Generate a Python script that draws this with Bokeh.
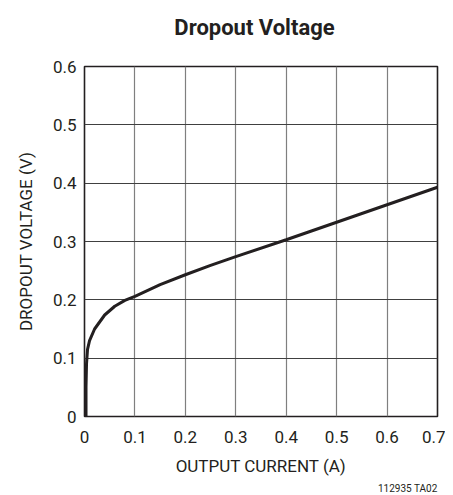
from bokeh.plotting import figure
from bokeh.models import Range1d, FixedTicker, Title, Div
from bokeh.layouts import column
from bokeh.embed import file_html
from bokeh.resources import INLINE

# Data
current_a = [0.003, 0.003, 0.004, 0.006, 0.010, 0.020, 0.040, 0.060, 0.080, 0.100,
             0.150, 0.200, 0.250, 0.300, 0.400, 0.500, 0.600, 0.700]
dropout_v = [0.000, 0.050, 0.090, 0.115, 0.130, 0.150, 0.174, 0.189, 0.199, 0.206,
             0.226, 0.243, 0.259, 0.274, 0.303, 0.333, 0.363, 0.393]
x_ticks = [0, 0.1, 0.2, 0.3, 0.4, 0.5, 0.6, 0.7]
y_ticks = [0, 0.1, 0.2, 0.3, 0.4, 0.5, 0.6]
x_tick_labels = {0: "0", 0.1: "0.1", 0.2: "0.2", 0.3: "0.3", 0.4: "0.4", 0.5: "0.5", 0.6: "0.6", 0.7: "0.7"}
y_tick_labels = {0: "0", 0.1: "0.1", 0.2: "0.2", 0.3: "0.3", 0.4: "0.4", 0.5: "0.5", 0.6: "0.6"}
chart_title = "Dropout Voltage"
figure_code = "112935 TA02"

FONT = "Roboto"
INK = "#231f20"

title_div = Div(text=chart_title, width=445, height=56, margin=0,
                styles={"font-family": FONT, "font-size": "22px", "font-weight": "bold",
                        "color": INK, "text-align": "center", "line-height": "56px",
                        "padding-left": "64px", "box-sizing": "border-box",
                        "width": "445px"})

p = figure(width=445, height=439, output_backend="svg", toolbar_location=None,
           x_range=Range1d(0, 0.7), y_range=Range1d(0, 0.6),
           min_border_left=84, min_border_right=8, min_border_top=10, min_border_bottom=77,
           margin=0)

p.line(current_a, dropout_v, line_width=3, line_color=INK)

p.xaxis.ticker = FixedTicker(ticks=x_ticks)
p.yaxis.ticker = FixedTicker(ticks=y_ticks)
p.xaxis.major_label_overrides = x_tick_labels
p.yaxis.major_label_overrides = y_tick_labels
for ax in (p.xaxis, p.yaxis):
    ax.axis_line_color = None
    ax.major_tick_line_color = None
    ax.minor_tick_line_color = None
    ax.major_tick_in = 0
    ax.major_tick_out = 0
    ax.minor_tick_in = 0
    ax.minor_tick_out = 0
    ax.major_label_text_font = FONT
    ax.major_label_text_font_size = "17px"
    ax.major_label_text_color = INK
    ax.axis_label_text_font = FONT
    ax.axis_label_text_font_size = "17px"
    ax.axis_label_text_font_style = "normal"
    ax.axis_label_text_color = INK

p.xaxis.major_label_standoff = 14
p.yaxis.major_label_standoff = 8
p.xaxis.axis_label = "OUTPUT CURRENT (A)"
p.yaxis.axis_label = "DROPOUT VOLTAGE (V)"
p.xaxis.axis_label_standoff = 10
p.yaxis.axis_label_standoff = 14

p.xgrid.grid_line_color = "#7f7f7f"
p.ygrid.grid_line_color = "#404040"
p.xgrid.grid_line_width = 1.2
p.ygrid.grid_line_width = 1.2

p.outline_line_color = INK
p.outline_line_width = 1.6

note = Title(text=figure_code, align="right", text_font=FONT, text_font_size="10px",
             text_font_style="normal", text_color=INK, standoff=4, offset=0)
p.add_layout(note, "below")

page = column(title_div, p, spacing=0, margin=0)

open("out.html", "w").write(file_html(page, INLINE))
